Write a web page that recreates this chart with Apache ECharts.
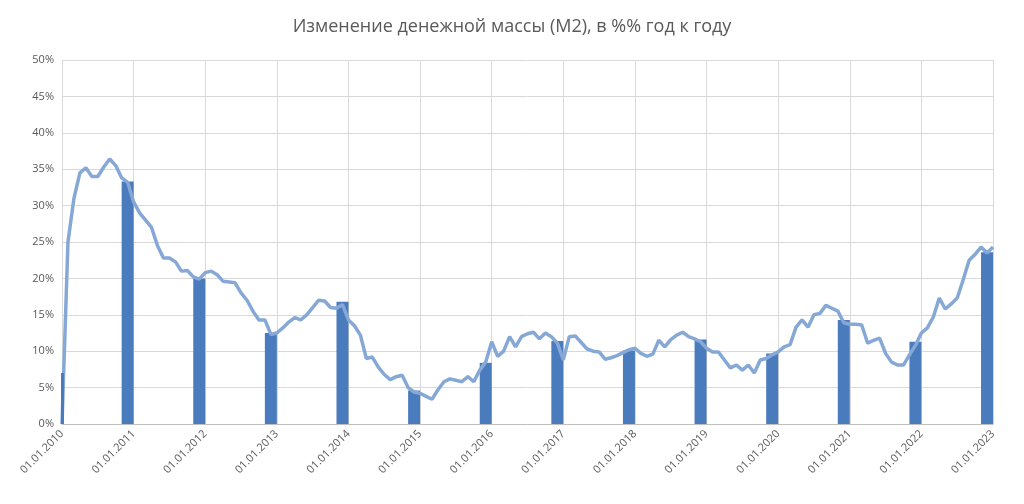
<!DOCTYPE html>
<html>
<head>
<meta charset="utf-8">
<script src="https://cdn.jsdelivr.net/npm/echarts@6/dist/echarts.min.js"></script>
<style>html,body{margin:0;padding:0;background:#fff}#chart{width:1024px;height:504px}</style>
</head>
<body>
<div id="chart"></div>
<script>
// monthly M2 growth, 01.2010 .. 01.2023
var years = [2010,2011,2012,2013,2014,2015,2016,2017,2018,2019,2020,2021,2022,2023];
var lineValues = [
  0,25,31,34.5,35.2,34,34,35.3,36.4,35.5,33.8,33.2,
  30.5,29,28,27,24.5,22.8,22.8,22.3,21,21.1,20.2,19.9,
  20.8,21,20.5,19.6,19.5,19.4,18,17,15.5,14.3,14.3,12.3,
  12.5,13.2,14,14.6,14.3,15,16,17,16.9,16,15.9,16.4,
  14.3,13.5,12.2,9,9.2,7.8,6.8,6.1,6.5,6.7,5,4.4,
  4.2,3.8,3.4,4.7,5.8,6.2,6,5.8,6.5,5.8,7.4,8.5,
  11.3,9.3,10,12,10.6,12,12.4,12.6,11.7,12.5,12,11.1,
  8.8,12,12.1,11.2,10.3,10,9.9,8.9,9.1,9.4,9.8,10.2,
  10.4,9.7,9.3,9.6,11.5,10.6,11.6,12.2,12.6,12,11.7,11.3,
  10.4,9.9,9.9,8.8,7.7,8.1,7.4,8.1,7,8.8,9,9.5,
  9.9,10.6,10.9,13.3,14.3,13.3,15,15.2,16.3,15.9,15.5,13.9,
  13.7,13.7,13.6,11.1,11.5,11.8,9.7,8.5,8.1,8.1,9.5,10.8,
  12.5,13.2,14.7,17.3,15.8,16.5,17.3,19.8,22.5,23.3,24.3,23.5,
  24.3
];
// yearly values (01.01 of each year)
var barValues = [7,33.3,20,12.5,16.8,4.6,8.4,11.4,10.1,11.6,9.7,14.3,11.3,23.6];

var categories = [];
years.forEach(function(y, k){
  var months = (k === years.length - 1) ? 1 : 12;
  for (var m = 1; m <= months; m++) {
    categories.push('01.' + (m < 10 ? '0' + m : m) + '.' + y);
  }
});

// bars sit just left of the year line; the first one is cut by the axis
var barData = lineValues.map(function(){ return '-'; });
barValues.forEach(function(v, k){
  if (k > 0) barData[k * 12 - 1] = v;
});

var myChart = echarts.init(document.getElementById('chart'));
var option = {
  backgroundColor: '#fff',
  animation: false,
  title: {
    text: 'Изменение денежной массы (М2), в %% год к году',
    left: 'center', top: 13,
    textStyle: {fontFamily: 'Open Sans', fontSize: 18, fontWeight: 'normal', color: '#595959'}
  },
  grid: {left: 62, right: 31, top: 60, bottom: 80},
  xAxis: {
    type: 'category',
    data: categories,
    boundaryGap: false,
    axisLine: {lineStyle: {color: '#bfbfbf'}},
    axisTick: {show: false},
    axisLabel: {
      interval: function(i){ return i % 12 === 0; },
      rotate: 45, color: '#595959', fontSize: 11, fontFamily: 'Open Sans', margin: 8
    },
    splitLine: {show: true, interval: function(i){ return i % 12 === 0; }, lineStyle: {color: '#d9d9d9'}}
  },
  yAxis: {
    type: 'value', min: 0, max: 50, interval: 5,
    axisLine: {show: false},
    axisLabel: {formatter: '{value}%', color: '#595959', fontSize: 11, fontFamily: 'Open Sans'},
    splitLine: {lineStyle: {color: '#d9d9d9'}}
  },
  series: [
    {
      type: 'bar', data: barData, barWidth: 12,
      itemStyle: {color: '#4a7bbd'},
      markLine: {
        silent: true, symbol: 'none', label: {show: false},
        lineStyle: {color: '#4a7bbd', width: 3, type: 'solid'},
        data: [[{coord: [0, 0]}, {coord: [0, barValues[0]]}]]
      }
    },
    {
      type: 'line', data: lineValues, symbol: 'none',
      lineStyle: {color: '#86a8d6', width: 3.5}
    }
  ]
};
myChart.setOption(option);
</script>
</body>
</html>
